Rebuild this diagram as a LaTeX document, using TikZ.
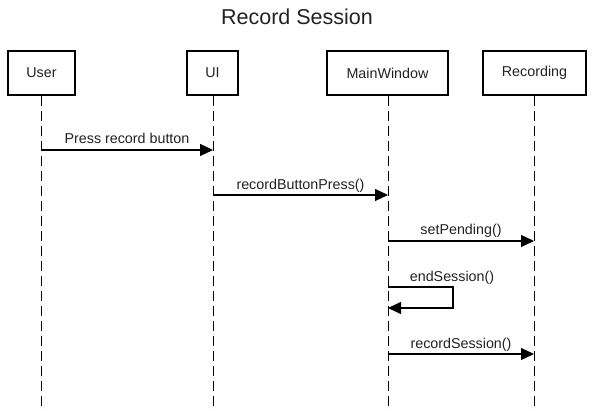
\documentclass[tikz,border=0pt]{standalone}
\usepackage{fontspec}
\setmainfont{Liberation Sans}
\usetikzlibrary{arrows.meta}
\definecolor{txt}{HTML}{222222}
\begin{document}
\begin{tikzpicture}[x=1pt,y=-1pt,
  actor/.style={draw, line width=1.8pt, fill=white, inner sep=0pt, minimum height=44pt,
    text=txt, font=\fontsize{14.3}{16}\selectfont},
  lifeline/.style={line width=1pt, dash pattern=on 10pt off 5pt},
  msg/.style={line width=1.2pt, -{Triangle[length=13pt,width=12pt]}},
  lbl/.style={anchor=base, inner sep=0pt, text=txt, font=\fontsize{14.3}{16}\selectfont}]
\useasboundingbox (0,0) rectangle (593,411);
\node[font=\fontsize{21.5}{24}\selectfont, text=txt, anchor=base, inner sep=0pt] (title) at (297,25) {Record Session};
\node[actor, minimum width=67pt] (user) at (41.5,73) {\raisebox{-2pt}{User}};
\node[actor, minimum width=51pt] (ui) at (212.5,73) {\raisebox{-2pt}{UI}};
\node[actor, minimum width=121pt] (mw) at (387.5,73) {\raisebox{-2pt}{MainWindow}};
\node[actor, minimum width=103pt] (rec) at (534.5,73) {\raisebox{-2pt}{Recording}};
\coordinate (userE) at (41,411);
\coordinate (uiE) at (213,411);
\coordinate (mwE) at (388,411);
\coordinate (recE) at (534,411);
\draw[lifeline] (user.south -| userE) -- (userE);
\draw[lifeline] (ui.south -| uiE) -- (uiE);
\draw[lifeline] (mw.south -| mwE) -- (mwE);
\draw[lifeline] (rec.south -| recE) -- (recE);
% messages
\coordinate (m1a) at (41,150); \coordinate (m1b) at (213,150);
\coordinate (m2a) at (213,195); \coordinate (m2b) at (388,195);
\coordinate (m3a) at (388,241); \coordinate (m3b) at (534,241);
\coordinate (m4a) at (388,287); \coordinate (m4b) at (388,308);
\coordinate (m5a) at (388,354); \coordinate (m5b) at (534,354);
\draw[msg] (m1a) -- (m1b);
\draw[msg] (m2a) -- (m2b);
\draw[msg] (m3a) -- (m3b);
\draw[msg] (m4a) -- (453,287) -- (453,308) -- (m4b);
\draw[msg] (m5a) -- (m5b);
\node[lbl] (l1) at (127,144) {Press record button};
\node[lbl] (l2) at (300.5,189.5) {recordButtonPress()};
\node[lbl] (l3) at (461,235) {setPending()};
\node[lbl] (l4) at (452,281) {endSession()};
\node[lbl] (l5) at (461,348) {recordSession()};
\end{tikzpicture}
\end{document}
